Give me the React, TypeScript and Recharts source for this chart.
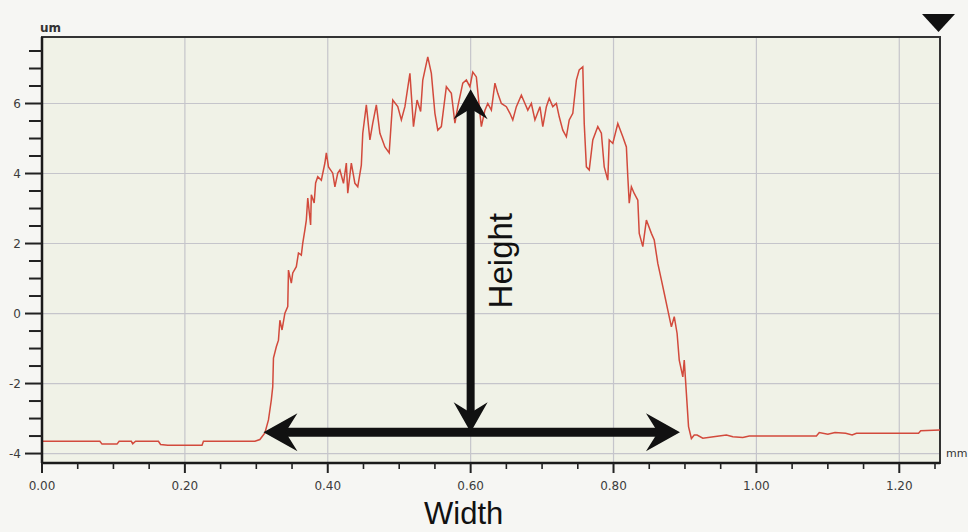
import { LineChart, Line, XAxis, YAxis, CartesianGrid, ReferenceLine, ReferenceArea } from 'recharts'

// surface profile, x in mm, height in um
const leftBase: [number, number][] = [
  [0, -3.65], [0.081, -3.65], [0.084, -3.73], [0.105, -3.73], [0.108, -3.65], [0.125, -3.65],
  [0.127, -3.72], [0.131, -3.65], [0.163, -3.65], [0.166, -3.74], [0.176, -3.76], [0.224, -3.76],
  [0.226, -3.65], [0.298, -3.65],
]

const risingEdge: [number, number][] = [
  [0.305, -3.6], [0.312, -3.41], [0.317, -3.04], [0.321, -2.47], [0.323, -2.09], [0.324, -1.27],
  [0.328, -0.95], [0.331, -0.76], [0.333, -0.19], [0.336, -0.47], [0.34, 0.01], [0.344, 0.2],
  [0.345, 1.24], [0.349, 0.87], [0.351, 1.16], [0.356, 1.34], [0.359, 1.73], [0.363, 1.67],
  [0.365, 2.01], [0.368, 2.39], [0.37, 2.67], [0.372, 3.3], [0.376, 2.53], [0.377, 3.39],
  [0.381, 3.16], [0.383, 3.73], [0.386, 3.91], [0.391, 3.81], [0.396, 4.3], [0.398, 4.59],
  [0.401, 4.19], [0.407, 4.01], [0.41, 3.62], [0.414, 4.01], [0.417, 4.1], [0.422, 3.72],
  [0.426, 4.3], [0.428, 3.44], [0.433, 4.3], [0.438, 3.72], [0.442, 3.62], [0.447, 4.24],
]

const plateau: [number, number][] = [
  [0.449, 5.15], [0.454, 5.96], [0.459, 4.96], [0.463, 5.44], [0.468, 5.96], [0.473, 5.15],
  [0.48, 4.76], [0.486, 4.59], [0.491, 6.1], [0.498, 5.91], [0.503, 5.53], [0.508, 5.91],
  [0.515, 6.86], [0.52, 5.34], [0.525, 6.1], [0.53, 5.77], [0.533, 6.67], [0.54, 7.33],
  [0.545, 6.86], [0.55, 5.72], [0.554, 5.24], [0.559, 5.34], [0.566, 6.48], [0.573, 6.29],
  [0.578, 5.44], [0.582, 5.91], [0.589, 6.58], [0.594, 6.67], [0.599, 6.48], [0.603, 6.9],
  [0.608, 6.76], [0.613, 5.72], [0.615, 5.34], [0.62, 5.81], [0.624, 6.0], [0.629, 5.81],
  [0.634, 6.58], [0.638, 6.29], [0.643, 6.0], [0.65, 5.91], [0.655, 5.72], [0.659, 5.53],
  [0.664, 5.91], [0.671, 6.24], [0.676, 6.0], [0.68, 5.81], [0.685, 6.0], [0.69, 5.53],
  [0.697, 5.91], [0.701, 5.34], [0.706, 5.91], [0.71, 6.15], [0.715, 5.91], [0.72, 6.0],
  [0.724, 5.62], [0.729, 5.24], [0.734, 5.05], [0.738, 5.53], [0.743, 5.72], [0.748, 6.67],
  [0.752, 6.96], [0.757, 7.05], [0.759, 5.43],
]

const fallingEdge: [number, number][] = [
  [0.762, 4.19], [0.766, 4.1], [0.771, 4.96], [0.778, 5.34], [0.783, 5.15], [0.787, 4.19],
  [0.792, 3.81], [0.794, 4.96], [0.799, 4.86], [0.806, 5.43], [0.813, 5.05], [0.818, 4.76],
  [0.82, 3.91], [0.822, 3.15], [0.825, 3.62], [0.829, 3.43], [0.834, 3.24], [0.836, 2.29],
  [0.841, 1.91], [0.846, 2.67], [0.853, 2.29], [0.857, 2.1], [0.862, 1.43], [0.867, 0.96],
  [0.871, 0.58], [0.876, 0.1], [0.881, -0.38], [0.885, -0.09], [0.889, -0.57], [0.892, -1.33],
  [0.897, -1.81], [0.899, -1.33], [0.902, -2.28], [0.905, -3.23], [0.909, -3.57], [0.913, -3.47],
]

const rightBase: [number, number][] = [
  [0.917, -3.47], [0.925, -3.56], [0.94, -3.52], [0.958, -3.47], [0.967, -3.52], [0.981, -3.54],
  [0.99, -3.5], [1.084, -3.5], [1.088, -3.4], [1.1, -3.45], [1.11, -3.4], [1.125, -3.42],
  [1.134, -3.47], [1.14, -3.42], [1.227, -3.42], [1.23, -3.35], [1.257, -3.33],
]

const xMajor = [0, 0.2, 0.4, 0.6, 0.8, 1.0, 1.2]
const xTicks = [
  0, 0.05, 0.1, 0.15, 0.2, 0.25, 0.3, 0.35, 0.4, 0.45, 0.5, 0.55, 0.6, 0.65,
  0.7, 0.75, 0.8, 0.85, 0.9, 0.95, 1.0, 1.05, 1.1, 1.15, 1.2, 1.25,
]
const yMajor = [-4, -2, 0, 2, 4, 6]
const yTicks = [
  -4, -3.5, -3, -2.5, -2, -1.5, -1, -0.5, 0, 0.5, 1, 1.5, 2, 2.5, 3, 3.5, 4, 4.5,
  5, 5.5, 6, 6.5, 7, 7.5,
]

const xDomain: [number, number] = [0, 1.257]
const yDomain: [number, number] = [-4.27, 7.9]

// annotation arrows (data coordinates)
const widthArrow = [{ x: 0.31, y: -3.39 }, { x: 0.893, y: -3.39 }]
const heightArrow = [{ x: 0.6, y: 6.41 }, { x: 0.6, y: -3.39 }]

const profile = [...leftBase, ...risingEdge, ...plateau, ...fallingEdge, ...rightBase].map(([x, y]) => ({ x, y }))

const tickFont = '"DejaVu Sans", Verdana, sans-serif'
const bigFont = '"Liberation Sans", Arial, sans-serif'

const isOn = (v: number, step: number) => Math.abs(v / step - Math.round(v / step)) < 1e-6

function XTick({ x, y, payload }: any) {
  const major = isOn(payload.value, 0.2)
  return (
    <g>
      <line x1={x} x2={x} y1={y} y2={y + (major ? 10 : 6)} stroke="#222" strokeWidth={major ? 2 : 1.6} />
      {major && (
        <text x={x} y={y + 27} textAnchor="middle" fontFamily={tickFont} fontSize={12} fill="#3c3c3c">
          {payload.value.toFixed(2)}
        </text>
      )}
    </g>
  )
}

function YTick({ x, y, payload }: any) {
  const major = isOn(payload.value, 2)
  return (
    <g>
      <line x1={x - (major ? 17 : 13)} x2={x} y1={y} y2={y} stroke="#222" strokeWidth={2} />
      {major && (
        <text x={x - 21} y={y + 4} textAnchor="end" fontFamily={tickFont} fontSize={12} fill="#3c3c3c">
          {payload.value}
        </text>
      )}
    </g>
  )
}

function head(tx: number, ty: number, dx: number, dy: number, len: number, wing: number, notch: number) {
  const nx = -dy
  const ny = dx
  const pts = [
    [tx, ty],
    [tx + dx * len + nx * wing, ty + dy * len + ny * wing],
    [tx + dx * notch, ty + dy * notch],
    [tx + dx * len - nx * wing, ty + dy * len - ny * wing],
  ]
  return pts.map((p) => p.join(',')).join(' ')
}

function DoubleArrow({ x1, y1, x2, y2, thick, len, wing, children }: any) {
  const d = Math.hypot(x2 - x1, y2 - y1) || 1
  const dx = (x2 - x1) / d
  const dy = (y2 - y1) / d
  return (
    <g>
      <line
        x1={x1 + dx * 18}
        y1={y1 + dy * 18}
        x2={x2 - dx * 18}
        y2={y2 - dy * 18}
        stroke="#111"
        strokeWidth={thick}
      />
      <polygon points={head(x1, y1, dx, dy, len, wing, len * 0.65)} fill="#111" />
      <polygon points={head(x2, y2, -dx, -dy, len, wing, len * 0.65)} fill="#111" />
      {children}
    </g>
  )
}

export default function App() {
  return (
    <div style={{ position: 'absolute', left: 0, top: 0, width: 968, height: 532, background: '#f6f6f3', overflow: 'hidden' }}>
      <LineChart width={968} height={532} data={profile} margin={{ top: 37, right: 28, bottom: 0, left: 0 }}>
        <CartesianGrid
          stroke="#c5c5cb"
          strokeWidth={1.2}
          fill="#f0f2e7"
          fillOpacity={1}
          verticalValues={xMajor}
          horizontalValues={yMajor}
        />
        <ReferenceArea x1={xDomain[0]} x2={xDomain[1]} y1={yDomain[0]} y2={yDomain[1]} fill="none" stroke="#333" strokeWidth={2} />
        <XAxis
          dataKey="x"
          type="number"
          domain={xDomain}
          allowDataOverflow
          ticks={xTicks}
          interval={0}
          height={69}
          tickSize={0}
          tickMargin={0}
          tickLine={false}
          axisLine={{ stroke: '#1a1a1a', strokeWidth: 2.5 }}
          tick={(p: any) => <XTick {...p} />}
        />
        <YAxis
          type="number"
          domain={yDomain}
          allowDataOverflow
          ticks={yTicks}
          interval={0}
          width={42}
          tickSize={0}
          tickMargin={0}
          tickLine={false}
          axisLine={{ stroke: '#1a1a1a', strokeWidth: 2.5 }}
          tick={(p: any) => <YTick {...p} />}
        />
        <Line
          dataKey="y"
          type="linear"
          stroke="#d24a3c"
          strokeWidth={1.5}
          dot={false}
          activeDot={false}
          isAnimationActive={false}
        />
        <ReferenceLine
          segment={widthArrow}
          shape={(p: any) => (
            <DoubleArrow {...p} thick={9} len={34} wing={19}>
              <text
                x={(p.x1 + p.x2) / 2 - 8}
                y={p.y1 + 92}
                textAnchor="middle"
                fontFamily={bigFont}
                fontSize={31}
                fill="#111"
              >
                Width
              </text>
            </DoubleArrow>
          )}
        />
        <ReferenceLine
          segment={heightArrow}
          shape={(p: any) => {
            const tx = p.x1 + 41
            const ty = (p.y1 + p.y2) / 2
            return (
              <DoubleArrow {...p} thick={8} len={30} wing={17}>
                <text
                  x={tx}
                  y={ty}
                  transform={`rotate(-90 ${tx} ${ty})`}
                  textAnchor="middle"
                  fontFamily={bigFont}
                  fontSize={33}
                  fill="#111"
                >
                  Height
                </text>
              </DoubleArrow>
            )
          }}
        />
      </LineChart>
      <svg width={968} height={532} style={{ position: 'absolute', left: 0, top: 0, pointerEvents: 'none' }}>
        <text x={40} y={32} fontFamily={tickFont} fontSize={12} fontWeight="bold" fill="#333">um</text>
        <text x={946} y={457} fontFamily={tickFont} fontSize={11} fill="#333">mm</text>
        <polygon points="922,14 955,14 938.5,32" fill="#111" />
      </svg>
    </div>
  )
}
